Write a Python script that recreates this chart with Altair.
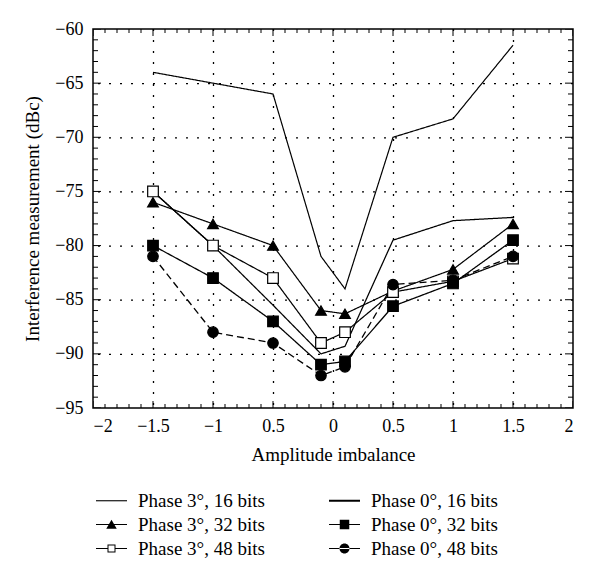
import altair as alt
import pandas as pd

# ---------------- data ----------------
x_vals = [-1.5, -1.0, -0.5, -0.1, 0.1, 0.5, 1.0, 1.5]

p3_16 = [-64.0, -65.0, -66.0, -81.0, -84.0, -70.0, -68.3, -61.5]
p0_16 = [-75.0, -80.0, -85.5, -90.0, -89.3, -79.5, -77.7, -77.4]
p3_32 = [-76.0, -78.0, -80.0, -86.0, -86.3, -84.2, -82.2, -78.0]
p0_32 = [-80.0, -83.0, -87.0, -91.0, -90.7, -85.6, -83.5, -79.5]
p3_48 = [-75.0, -80.0, -83.0, -89.0, -88.0, -84.3, -83.3, -81.2]
p0_48 = [-81.0, -88.0, -89.0, -92.0, -91.2, -83.6, -83.2, -81.0]

series_names = [
    "Phase 3°, 16 bits", "Phase 3°, 32 bits", "Phase 3°, 48 bits",
    "Phase 0°, 16 bits", "Phase 0°, 32 bits", "Phase 0°, 48 bits",
]
series_values = [p3_16, p3_32, p3_48, p0_16, p0_32, p0_48]

x_domain = [-2, 2]
y_domain = [-95, -60]
x_major = [-2, -1.5, -1, -0.5, 0, 0.5, 1, 1.5, 2]
y_major = [-95, -90, -85, -80, -75, -70, -65, -60]
x_minor = [i / 10 for i in range(-20, 21)]
y_minor = list(range(-95, -59))

rows = []
for name, vals in zip(series_names, series_values):
    for xv, yv in zip(x_vals, vals):
        rows.append({"x": xv, "y": yv, "series": name})
df = pd.DataFrame(rows)

# tick tables (inward ticks on all four sides, clipped to the frame so only
# the inner half of each centred tick shows)
xt_rows = []
for v in x_minor:
    major = abs(v * 2 - round(v * 2)) < 1e-9
    for edge in y_domain:
        xt_rows.append({"x": v, "y": edge, "len": 14 if major else 8})
yt_rows = []
for v in y_minor:
    major = v % 5 == 0
    for edge in x_domain:
        yt_rows.append({"x": edge, "y": v, "len": 16 if major else 10})
xt_df = pd.DataFrame(xt_rows)
yt_df = pd.DataFrame(yt_rows)

# dotted grid at the inner major ticks
xg_df = pd.DataFrame({"x": [v for v in x_major if v not in x_domain]})
yg_df = pd.DataFrame({"y": [v for v in y_major if v not in y_domain]})

W, H = 480, 379
FONT = "Liberation Serif"

x_scale = alt.Scale(domain=x_domain, nice=False, zero=False)
y_scale = alt.Scale(domain=y_domain, nice=False, zero=False)

minus_expr = "replace(format(datum.value, '.1~f'), '-', '\u2212')"

x_main_axis = alt.Axis(
    values=x_major, ticks=False, domain=False, grid=False,
    labelExpr="datum.value == -0.5 ? '0.5' : " + minus_expr,
    labelFont=FONT, labelFontSize=18, labelColor="black", labelPadding=9,
    title="Amplitude imbalance", titleFont=FONT, titleFontSize=19,
    titleFontWeight="normal", titleColor="black", titlePadding=10,
)
y_main_axis = alt.Axis(
    values=y_major, ticks=False, domain=False, grid=False,
    labelExpr=minus_expr,
    labelFont=FONT, labelFontSize=18, labelColor="black", labelPadding=10,
    title="Interference measurement (dBc)", titleFont=FONT, titleFontSize=19,
    titleFontWeight="normal", titleColor="black", titlePadding=12,
)

# crisp dotted grid (half-pixel offset so the dots land on whole pixels)
grid_x = alt.Chart(xg_df).mark_rule(
    color="black", strokeWidth=1.3, strokeDash=[2, 9], opacity=1, xOffset=0.5
).encode(x=alt.X("x:Q", scale=x_scale))
grid_y = alt.Chart(yg_df).mark_rule(
    color="black", strokeWidth=1.3, strokeDash=[2, 9], opacity=1, yOffset=0.5
).encode(y=alt.Y("y:Q", scale=y_scale))

dash_range = [[1, 0], [1, 0], [1, 0], [1, 0], [1, 0], [7, 4]]
width_range = [1.2, 1.3, 1.3, 2.2, 1.0, 1.4]

lines = alt.Chart(df).mark_line(color="black").encode(
    x=alt.X("x:Q", scale=x_scale, axis=x_main_axis),
    y=alt.Y("y:Q", scale=y_scale, axis=y_main_axis),
    detail="series:N",
    strokeDash=alt.StrokeDash("series:N", scale=alt.Scale(domain=series_names, range=dash_range), legend=None),
    strokeWidth=alt.StrokeWidth("series:N", scale=alt.Scale(domain=series_names, range=width_range), legend=None),
    order="x:Q",
)

# ---------------- markers ----------------
marker_series = ["Phase 3°, 32 bits", "Phase 3°, 48 bits", "Phase 0°, 32 bits", "Phase 0°, 48 bits"]
points = alt.Chart(df).transform_filter(
    alt.FieldOneOfPredicate(field="series", oneOf=marker_series)
).mark_point(filled=True, stroke="black", strokeWidth=1.2, opacity=1).encode(
    x=alt.X("x:Q", scale=x_scale),
    y=alt.Y("y:Q", scale=y_scale),
    shape=alt.Shape("series:N", scale=alt.Scale(domain=marker_series, range=["triangle-up", "square", "square", "circle"]), legend=None),
    fill=alt.Fill("series:N", scale=alt.Scale(domain=marker_series, range=["black", "white", "black", "black"]), legend=None),
    size=alt.Size("series:N", scale=alt.Scale(domain=marker_series, range=[115, 110, 100, 95]), legend=None),
)

# ---------------- legend (invisible layer, custom filled symbols) ----------------
LN = "M-3.1,-0.11H3.1V0.11H-3.1Z"
legend_paths = [
    LN,
    LN + "M0,-0.95L1.05,0.85H-1.05Z",
    "M-3.1,-0.11H-0.8V0.11H-3.1ZM0.8,-0.11H3.1V0.11H0.8Z"
    "M-0.8,-0.8H0.8V0.8H-0.8ZM-0.6,-0.6V0.6H0.6V-0.6Z",
    "M-3.1,-0.2H3.1V0.2H-3.1Z",
    LN + "M-0.95,-0.95H0.95V0.95H-0.95Z",
    LN + "M-1,0A1,1 0 1,0 1,0A1,1 0 1,0 -1,0Z",
]
legend_layer = alt.Chart(df).mark_point(
    filled=True, fill="black", opacity=0, size=100
).encode(
    x=alt.X("x:Q", scale=x_scale),
    y=alt.Y("y:Q", scale=y_scale),
    shape=alt.Shape(
        "series:N",
        scale=alt.Scale(domain=series_names, range=legend_paths),
        legend=alt.Legend(
            title=None, orient="none", legendX=9, legendY=462, columns=2,
            symbolSize=100, symbolFillColor="black", symbolStrokeWidth=0,
            symbolOpacity=1,
            labelFont=FONT, labelFontSize=19, labelColor="black", labelOffset=17,
            labelLimit=300, columnPadding=64, rowPadding=4, padding=0,
        ),
    ),
)

# ---------------- inward ticks ----------------
x_ticks = alt.Chart(xt_df).mark_tick(
    orient="vertical", clip=True, color="black", thickness=1, opacity=1
).encode(
    x=alt.X("x:Q", scale=x_scale),
    y=alt.Y("y:Q", scale=y_scale),
    size=alt.Size("len:Q", scale=None, legend=None),
)
y_ticks = alt.Chart(yt_df).mark_tick(
    orient="horizontal", clip=True, color="black", thickness=1, opacity=1
).encode(
    x=alt.X("x:Q", scale=x_scale),
    y=alt.Y("y:Q", scale=y_scale),
    size=alt.Size("len:Q", scale=None, legend=None),
)

chart = alt.layer(grid_x, grid_y, lines, points, legend_layer, x_ticks, y_ticks).resolve_scale(
    shape="independent", fill="independent", size="independent"
).properties(
    width=W, height=H,
    autosize=alt.AutoSizeParams(type="none"),
    padding={"left": 85, "top": 21, "right": 19, "bottom": 162},
    background="white",
).configure_view(
    stroke="black", strokeWidth=1.5
)

chart.save("out.html", embed_options={"renderer": "svg", "actions": False})
